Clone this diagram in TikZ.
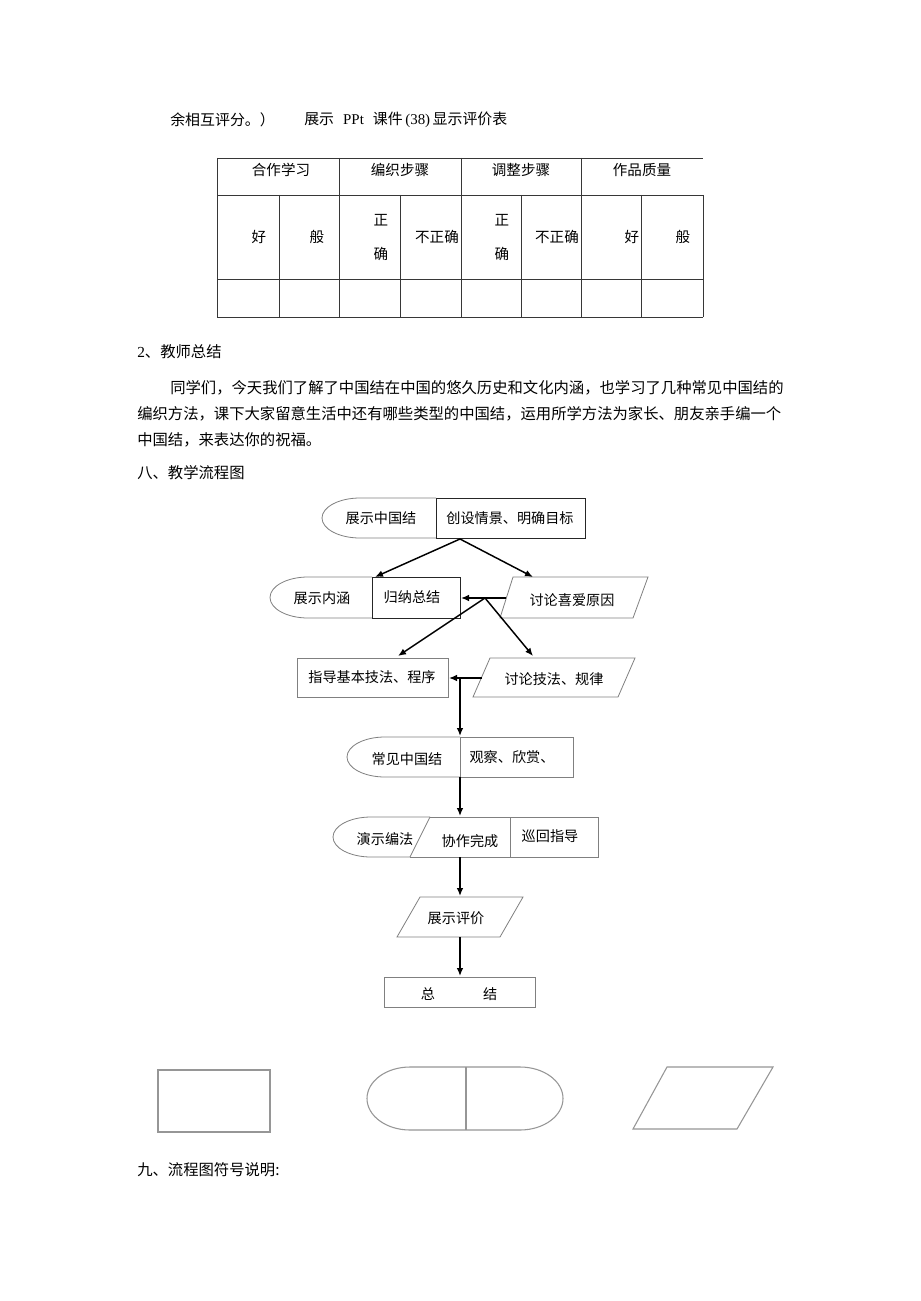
\documentclass[tikz,border=0pt]{standalone}
\usepackage{fontspec}
\setmainfont{Liberation Serif}
\newfontfamily\cjk{Noto Sans CJK SC}
\usepackage{xcolor}
\usetikzlibrary{arrows.meta}
\definecolor{shapegray}{RGB}{128,128,128}
\definecolor{legendgray}{RGB}{150,150,150}
\definecolor{rulegray}{RGB}{55,55,55}
\newcommand{\bodyfont}{\cjk\fontsize{11.5pt}{14pt}\selectfont}
\newcommand{\topfont}{\cjk\fontsize{11.2pt}{14pt}\selectfont}
\newcommand{\flowfont}{\cjk\fontsize{10.6pt}{13pt}\selectfont}
\newcommand{\cellfont}{\cjk\fontsize{10.9pt}{13pt}\selectfont}
% half-width latin, as in the source document
\newcommand{\halfw}[2]{\makebox[#1em][c]{\rmfamily #2}}
% left end of a terminal: xl, xd, top, bottom
\newcommand{\capleft}[4]{\draw[flowshape] (#2,-#3) -- ({#1+38},-#3) arc[start angle=90,end angle=270,x radius=38,y radius={(#4-#3)/2}] -- (#2,-#4);}
\tikzset{
  flowshape/.style={draw=shapegray,line width=0.6pt},
  darkshape/.style={draw=black!85,line width=0.7pt},
  tablerule/.style={draw=rulegray,line width=0.6pt},
  legendshape/.style={draw=legendgray,line width=0.8pt},
  arrow/.style={-{Latex[length=6pt,width=5pt]},line width=1.1pt,black},
  bodytext/.style={font=\bodyfont,inner sep=0pt,anchor=west},
  flowtext/.style={font=\flowfont,inner sep=0pt},
  celltext/.style={font=\cellfont,inner sep=0pt}
}
\begin{document}
\begin{tikzpicture}[x=0.75pt,y=0.75pt]
\useasboundingbox (0,0) rectangle (920,-1301);
\fill[white] (0,0) rectangle (920,-1301);

% text above the table
\node[bodytext,font=\topfont] (rate) at (170,-120) {余相互评分。）};
\node[bodytext,font=\topfont] (ppt) at (304,-120) {展示\halfw{2.6}{PPt}课件\halfw{2}{(38)}显示评价表};

% evaluation table
\foreach \y in {158,195,279,317} \draw[tablerule] (217,-\y) -- (703,-\y);
\foreach \x in {217,339,461,581} \draw[tablerule] (\x,-158) -- (\x,-195);
\foreach \x in {217,279,339,400,461,521,581,641,703} \draw[tablerule] (\x,-195) -- (\x,-317);
\foreach \x/\t/\n in {281/合作学习/coop,400/编织步骤/weave,521/调整步骤/adjust,642/作品质量/work}
  \node[celltext] (\n) at (\x,-170) {\t};
\foreach \x/\t/\n in {259/好/good1,317/般/fair1,632/好/good2,683/般/fair2,437/不正确/wrong1,557/不正确/wrong2}
  \node[celltext] (\n) at (\x,-237) {\t};
\foreach \x/\n in {381/right1,502/right2}{
  \node[celltext] (\n a) at (\x,-220) {正};
  \node[celltext] (\n b) at (\x,-254) {确};
}

% teacher summary
\node[bodytext] (head2) at (137,-352) {{\rmfamily 2}、教师总结};
\node[bodytext] (sum1) at (170,-388) {同学们，今天我们了解了中国结在中国的悠久历史和文化内涵，也学习了几种常见中国结的};
\node[bodytext] (sum2) at (137,-414) {编织方法，课下大家留意生活中还有哪些类型的中国结，运用所学方法为家长、朋友亲手编一个};
\node[bodytext] (sum3) at (137,-440) {中国结，来表达你的祝福。};
\node[bodytext] (head8) at (137,-473) {八、教学流程图};

% flow chart shapes
\capleft{322}{436}{498}{538}
\draw[darkshape] (436,-498) rectangle (585,-538);
\capleft{270}{372}{577}{618}
\draw[darkshape] (372,-577) rectangle (460,-618);
\draw[flowshape] (513,-577) -- (648,-577) -- (633,-618) -- (500,-618) -- cycle;
\draw[flowshape] (297,-658) rectangle (448,-697);
\draw[flowshape] (490,-658) -- (635,-658) -- (618,-697) -- (473,-697) -- cycle;
\capleft{347}{460}{737}{777}
\draw[flowshape] (460,-737) rectangle (573,-777);
\draw[flowshape] (430,-817) -- (371,-817) arc[start angle=90,end angle=270,x radius=38,y radius=20] -- (410,-857);
\draw[flowshape] (430,-817) -- (410,-857);
\draw[flowshape] (430,-817) -- (598,-817) -- (598,-857) -- (410,-857);
\draw[flowshape] (510,-817) -- (510,-857);
\draw[flowshape] (420,-897) -- (523,-897) -- (500,-937) -- (397,-937) -- cycle;
\draw[flowshape] (384,-977) rectangle (535,-1007);

% flow chart texts
\node[flowtext] (show) at (381,-518) {展示中国结};
\node[flowtext] (goal) at (510,-518) {创设情景、明确目标};
\node[flowtext] (meaning) at (322,-598) {展示内涵};
\node[flowtext] (induce) at (412,-597) {归纳总结};
\node[flowtext] (reason) at (572,-600) {讨论喜爱原因};
\node[flowtext] (guide) at (372,-677) {指导基本技法、程序};
\node[flowtext] (law) at (554,-679) {讨论技法、规律};
\node[flowtext] (common) at (407,-759) {常见中国结};
\node[flowtext] (watch) at (512,-757) {观察、欣赏、};
\node[flowtext] (demo) at (385,-839) {演示编法};
\node[flowtext] (team) at (470,-841) {协作完成};
\node[flowtext] (tour) at (550,-836) {巡回指导};
\node[flowtext] (eval) at (456,-918) {展示评价};
\node[flowtext] (sum) at (459,-994) {总\hspace{3.4em}结};

% connector points
\coordinate (g0) at (460,-539);
\coordinate (g1) at (375,-577);
\coordinate (g2) at (533,-577);
\coordinate (r0) at (506,-598);
\coordinate (r1) at (461,-598);
\coordinate (b0) at (485,-598);
\coordinate (b1) at (398,-656);
\coordinate (b2) at (533,-656);
\coordinate (t0) at (482,-678);
\coordinate (t1) at (449,-678);
\coordinate (v0) at (460,-678);
\coordinate (v1) at (460,-736);
\coordinate (v2) at (460,-777);
\coordinate (v3) at (460,-816);
\coordinate (v4) at (460,-857);
\coordinate (v5) at (460,-896);
\coordinate (v6) at (460,-937);
\coordinate (v7) at (460,-976);

\draw[arrow] (g0) -- (g1);
\draw[arrow] (g0) -- (g2);
\draw[arrow] (r0) -- (r1);
\draw[arrow] (b0) -- (b1);
\draw[arrow] (b0) -- (b2);
\draw[arrow] (t0) -- (t1);
\foreach \a/\b in {v0/v1,v2/v3,v4/v5,v6/v7} \draw[arrow] (\a) -- (\b);

% legend symbols
\draw[legendshape] (158,-1070) rectangle (270,-1132);
\draw[legendshape] (410,-1067) -- (520,-1067) arc[start angle=90,end angle=-90,x radius=43,y radius=31.5]
  -- (410,-1130) arc[start angle=270,end angle=90,x radius=43,y radius=31.5] -- cycle;
\draw[legendshape] (466,-1067) -- (466,-1130);
\draw[legendshape] (667,-1067) -- (773,-1067) -- (737,-1129) -- (633,-1129) -- cycle;
\node[bodytext] (head9) at (137,-1170) {九、流程图符号说明:};
\end{tikzpicture}
\end{document}
